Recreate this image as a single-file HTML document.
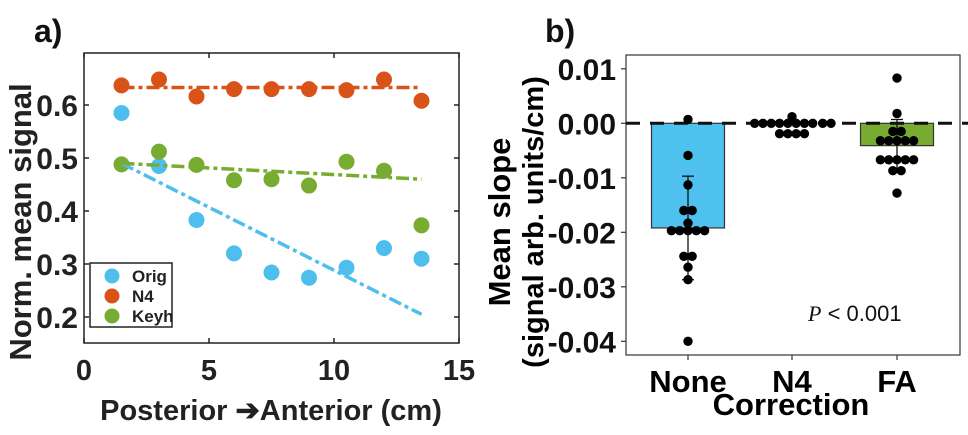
<!DOCTYPE html>
<html><head><meta charset="utf-8"><style>
html,body{margin:0;padding:0;background:#fff}
svg{display:block;font-family:"Liberation Sans",Arial,sans-serif}
</style></head><body>
<svg id="fig" width="968" height="435" viewBox="0 0 968 435" xmlns="http://www.w3.org/2000/svg">
<text x="34" y="42" font-size="32" font-weight="bold" fill="#111">a)</text>
<text x="545" y="42" font-size="32" font-weight="bold" fill="#111">b)</text>
<g id="pa"></g>
<g id="pb"></g>
</svg>
<script>
// ---- Panel A data ----
const xPos = [1.5,3,4.5,6,7.5,9,10.5,12,13.5];
const origVals = [0.585,0.485,0.383,0.32,0.284,0.274,0.293,0.33,0.31];
const n4Vals = [0.637,0.648,0.616,0.63,0.63,0.63,0.628,0.648,0.608];
const keyhVals = [0.488,0.512,0.487,0.458,0.46,0.448,0.493,0.476,0.373];
const origFit = [0.49,0.205];
const n4Fit = [0.633,0.633];
const keyhFit = [0.49,0.46];
const aXTicks = [0,5,10,15];
const aYTicks = [0.2,0.3,0.4,0.5,0.6];
// ---- Panel B data ----
const categories = ["None","N4","FA"];
const barMeans = [-0.0192,0,-0.0041];
const errLow = [-0.0287,0,-0.009];
const errHigh = [-0.0097,0,0.0007];
const noneDots = [0.0007,-0.0059,-0.0113,-0.016,-0.016,-0.0183,-0.0197,-0.0197,-0.0197,-0.0197,-0.0197,-0.0244,-0.0244,-0.0264,-0.0287,-0.04];
const noneOff = [0,0,0,-0.5,0.5,0,-2,-1,0,1,2,-0.5,0.5,0,0,0];
const n4Dots = [0,0,0,0,0,0,0,0,0,0,0.0012,-0.0019,-0.0019,-0.0019,-0.0019];
const n4Off = [-4.5,-3.5,-2.5,-1.5,-0.5,0.5,1.5,2.5,3.7,4.7,0,-1.5,-0.5,0.5,1.5];
const faDots = [0.0083,0.0018,-0.0015,-0.0015,-0.0032,-0.0032,-0.0032,-0.0032,-0.0032,-0.0067,-0.0067,-0.0067,-0.0067,-0.0067,-0.0087,-0.0087,-0.0128];
const faOff = [0,0,-0.5,0.5,-2,-1,0,1,2,-2,-1,0,1,2,-0.5,0.5,0];
const bYTicks = [0.01,0,-0.01,-0.02,-0.03,-0.04];
const bYLabels = ["0.01","0.00","-0.01","-0.02","-0.03","-0.04"];

const NS="http://www.w3.org/2000/svg";
function mk(parent,tag,attrs,txt){const e=document.createElementNS(NS,tag);for(const k in attrs)e.setAttribute(k,attrs[k]);if(txt!==undefined)e.textContent=txt;parent.appendChild(e);return e;}

// Panel A
const pa=document.getElementById('pa');
const aL=84,aR=459,aT=53,aB=343;
const ax=v=>aL+v*25;
const ay=v=>105-(v-0.6)*530;
let fr=mk(pa,'rect',{x:aL,y:aT,width:aR-aL,height:aB-aT,fill:'none',stroke:'#222','stroke-width':1.5});


aXTicks.forEach(t=>{
  [[aB,aB-5],[aT,aT+5]].forEach(([a,b])=>{let l=mk(pa,'line',{x1:ax(t),x2:ax(t),y1:a,y2:b,stroke:'#222','stroke-width':1.5});
  
  });
  let tx=mk(pa,'text',{x:ax(t),y:380,'font-size':29,'font-weight':'bold','text-anchor':'middle',fill:'#222'},String(t));
  
  
});
aYTicks.forEach(t=>{
  [[aL,aL+5],[aR,aR-5]].forEach(([a,b])=>{let l=mk(pa,'line',{x1:a,x2:b,y1:ay(t),y2:ay(t),stroke:'#222','stroke-width':1.5});
  
  });
  let tx=mk(pa,'text',{x:78,y:ay(t)+11,'font-size':30,'font-weight':'bold','text-anchor':'end',fill:'#222'},t.toFixed(1));
  
  
});
const series=[['orig',origVals,origFit,'#4dbeee'],['n4',n4Vals,n4Fit,'#d95319'],['keyh',keyhVals,keyhFit,'#77ac30']];
series.forEach(([nm,vals,fit,c])=>{
  vals.forEach((v,i)=>{let d=mk(pa,'circle',{cx:ax(xPos[i]),cy:ay(v),r:8,fill:c});
  
  });
});
series.forEach(([nm,vals,fit,c])=>{
  let l=mk(pa,'line',{x1:ax(xPos[0]),x2:ax(xPos[xPos.length-1]),y1:ay(fit[0]),y2:ay(fit[1]),stroke:c,'stroke-width':3.5,'stroke-dasharray':'13 4 4 4'});
  
  
});
let lg=mk(pa,'g',{});


mk(lg,'rect',{x:90,y:263,width:82,height:64,fill:'#fff',stroke:'#222','stroke-width':1.5});
[['Orig','#4dbeee'],['N4','#d95319'],['Keyh','#77ac30']].forEach(([t,c],i)=>{
  let g=mk(lg,'g',{});
  
  
  mk(g,'circle',{cx:112,cy:276+i*20,r:7.5,fill:c});
  mk(g,'text',{x:132,y:282+i*20,'font-size':17,'font-weight':'bold',fill:'#222'},t);
});
let yt=mk(pa,'text',{x:0,y:0,'font-size':31,'font-weight':'bold','text-anchor':'middle',fill:'#222',transform:'translate(31,222) rotate(-90)'},'Norm. mean signal');


let xt=mk(pa,'text',{x:271,y:420,'font-size':29,'font-weight':'bold','text-anchor':'middle',fill:'#222'},'Posterior \u2794Anterior (cm)');



// Panel B
const pb=document.getElementById('pb');
const bL=626,bR=960,bT=55,bB=355;
const by=v=>123.3-v*5450;
const bx=i=>[688,792,897][i];
let fb=mk(pb,'rect',{x:bL,y:bT,width:bR-bL,height:bB-bT,fill:'none',stroke:'#333','stroke-width':1.2});


bYTicks.forEach((t,i)=>{
  let l=mk(pb,'line',{x1:bL-5,x2:bL,y1:by(t),y2:by(t),stroke:'#333','stroke-width':1.2});
  
  
  let tx=mk(pb,'text',{x:616,y:by(t)+11,'font-size':30,'font-weight':'bold','text-anchor':'end',fill:'#111'},bYLabels[i]);
  
  
});
const barCols=['#4fc1ef','none','#77ac30'];
categories.forEach((c,i)=>{
  let l=mk(pb,'line',{x1:bx(i),x2:bx(i),y1:bB,y2:bB+5,stroke:'#333','stroke-width':1.2});
  
  
  let tx=mk(pb,'text',{x:bx(i),y:392,'font-size':31,'font-weight':'bold','text-anchor':'middle',fill:'#000'},c);
  
  
  if(barMeans[i]!==0){
    let r=mk(pb,'rect',{x:bx(i)-36.5,y:by(0),width:73,height:by(barMeans[i])-by(0),fill:barCols[i],stroke:'#333','stroke-width':1.2});
    
    
  }
});
let zl=mk(pb,'line',{x1:bL,x2:bR+8,y1:by(0),y2:by(0),stroke:'#111','stroke-width':3,'stroke-dasharray':'14 10'});


categories.forEach((c,i)=>{
  if(errLow[i]===errHigh[i])return;
  let g=mk(pb,'g',{stroke:'#111','stroke-width':1.3});
  
  
  mk(g,'line',{x1:bx(i),x2:bx(i),y1:by(errHigh[i]),y2:by(errLow[i])});
  mk(g,'line',{x1:bx(i)-6,x2:bx(i)+6,y1:by(errHigh[i]),y2:by(errHigh[i])});
  mk(g,'line',{x1:bx(i)-6,x2:bx(i)+6,y1:by(errLow[i]),y2:by(errLow[i])});
});
[[noneDots,noneOff,0],[n4Dots,n4Off,1],[faDots,faOff,2]].forEach(([vals,off,ci])=>{
  vals.forEach((v,j)=>{let d=mk(pb,'circle',{cx:bx(ci)+off[j]*8.3,cy:by(v),r:4.7,fill:'#000'});
  
  });
});
let pv=mk(pb,'text',{x:808,y:321,'font-size':22,fill:'#111'});


mk(pv,'tspan',{'font-family':'Liberation Serif','font-style':'italic'},'P');
mk(pv,'tspan',{},' < 0.001');
let bt1=mk(pb,'text',{x:0,y:0,'font-size':31,'font-weight':'bold','text-anchor':'middle',fill:'#000',transform:'translate(510,222) rotate(-90)'},'Mean slope');


let bt2=mk(pb,'text',{x:0,y:0,'font-size':29,'font-weight':'bold','text-anchor':'middle',fill:'#000',transform:'translate(543,222) rotate(-90)'},'(signal arb. units/cm)');


let cx=mk(pb,'text',{x:791,y:415,'font-size':31,'font-weight':'bold','text-anchor':'middle',fill:'#000'},'Correction');


</script>
</body></html>
